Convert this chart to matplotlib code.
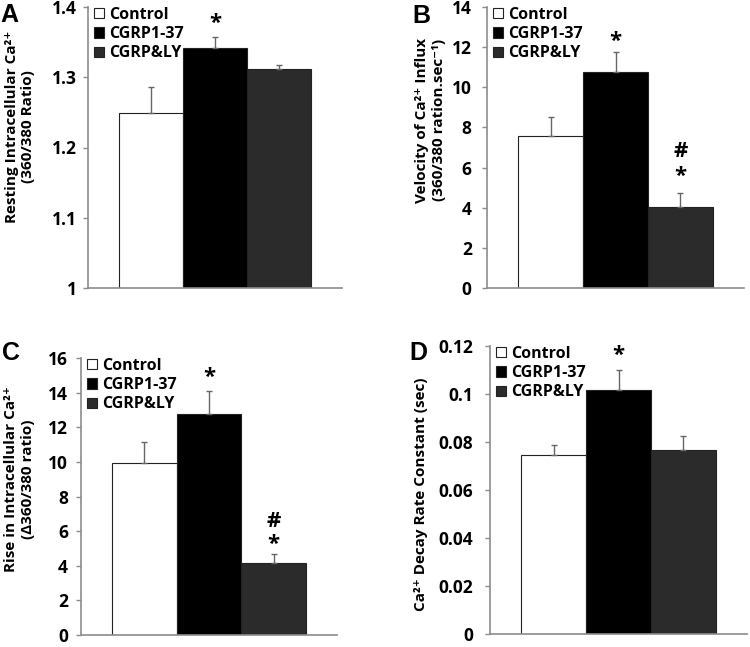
#!/usr/bin/env python3
"""Four-panel Ca2+ bar chart: Control vs CGRP1-37 vs CGRP&LY."""

import matplotlib
matplotlib.use("Agg")
import matplotlib.pyplot as plt

# ---- data --------------------------------------------------------------
groups = ["Control", "CGRP1-37", "CGRP&LY"]

resting_mean = [1.249, 1.341, 1.312]
resting_err = [0.037, 0.016, 0.006]

velocity_mean = [7.59, 10.76, 4.04]
velocity_err = [0.91, 0.98, 0.68]

rise_mean = [9.93, 12.77, 4.15]
rise_err = [1.24, 1.34, 0.55]

decay_mean = [0.0747, 0.1018, 0.0766]
decay_err = [0.0040, 0.0080, 0.0059]

# significance marks: (bar index, y value, symbol)
resting_marks = [(1, 1.376, "*")]
velocity_marks = [(1, 12.3, "*"), (2, 6.78, "#"), (2, 5.55, "*")]
rise_marks = [(1, 14.85, "*"), (2, 6.55, "#"), (2, 5.25, "*")]
decay_marks = [(1, 0.1162, "*")]

FONT = ["Open Sans", "DejaVu Sans"]
BAR_COLORS = ["white", "black", "#2b2b2b"]
AXIS_GRAY = "#8c8c8c"

plt.rcParams.update({
    "font.family": FONT,
    "font.weight": "bold",
    "figure.dpi": 100,
})


def draw_panel(ax, means, errs, marks, ylim, yticks, ticklabels, ylabel,
               label_xy, tick_pad):
    x = range(len(groups))
    bars = ax.bar(x, means, width=1.0, color=BAR_COLORS, edgecolor="#222222",
                  linewidth=0.8, label=groups, zorder=2)
    ax.errorbar(x, means, yerr=[[0] * len(errs), errs], fmt="none",
                ecolor="#666666", elinewidth=1.0, capsize=2.5, capthick=1.0,
                zorder=3)
    for i, y, sym in marks:
        ax.text(i, y, sym, ha="center", va="center", fontsize=16,
                fontweight="bold", color="black")

    ax.set_xlim(-0.98, 2.98)
    ax.set_ylim(*ylim)
    ax.set_yticks(yticks)
    ax.set_yticklabels(ticklabels)
    ax.set_xticks([])
    for side in ("top", "right"):
        ax.spines[side].set_visible(False)
    for side in ("left", "bottom"):
        ax.spines[side].set_color(AXIS_GRAY)
        ax.spines[side].set_linewidth(1.2)
    ax.tick_params(axis="y", direction="out", length=3.5, width=1.0,
                   color=AXIS_GRAY, pad=tick_pad, labelsize=12.5)
    for t in ax.get_yticklabels():
        t.set_fontweight("bold")

    ax.set_ylabel(ylabel, fontsize=11, fontweight="bold", ha="center",
                  va="center", linespacing=1.25)
    ax.yaxis.set_label_coords(*label_xy)

    ax.legend(handles=bars.patches, labels=groups, loc="upper left",
              bbox_to_anchor=(0.025, 1.0), frameon=False, borderpad=0,
              borderaxespad=0, handlelength=0.6, handleheight=0.6,
              handletextpad=0.3, labelspacing=0.2,
              prop={"weight": "bold", "size": 11.5, "family": FONT})


fig = plt.figure(figsize=(7.5, 6.47))
W, H = 750.0, 647.0


def add_axes(left, right, top, bottom):
    return fig.add_axes([left / W, 1 - bottom / H, (right - left) / W,
                         (bottom - top) / H])


axA = add_axes(88, 342, 7, 288)
axB = add_axes(487, 744, 7, 288)
axC = add_axes(81, 337, 358, 635)
axD = add_axes(490, 747, 346, 634)

draw_panel(axA, resting_mean, resting_err, resting_marks, (1.0, 1.4),
           [1.0, 1.1, 1.2, 1.3, 1.4], ["1", "1.1", "1.2", "1.3", "1.4"],
           "Resting Intracellular Ca²⁺\n(360/380 Ratio)",
           (-0.268, 0.573), 4.5)

draw_panel(axB, velocity_mean, velocity_err, velocity_marks, (0, 14),
           range(0, 15, 2), [str(v) for v in range(0, 15, 2)],
           "Velocity of Ca²⁺ Influx\n(360/380 ration.sec⁻¹)",
           (-0.22, 0.598), 7.5)

draw_panel(axC, rise_mean, rise_err, rise_marks, (0, 16),
           range(0, 17, 2), [str(v) for v in range(0, 17, 2)],
           "Rise in Intracellular Ca²⁺\n(Δ360/380 ratio)",
           (-0.24, 0.562), 6.0)

draw_panel(axD, decay_mean, decay_err, decay_marks, (0, 0.12),
           [0, 0.02, 0.04, 0.06, 0.08, 0.1, 0.12],
           ["0", "0.02", "0.04", "0.06", "0.08", "0.1", "0.12"],
           "Ca²⁺ Decay Rate Constant (sec)",
           (-0.27, 0.485), 8.8)

# panel letters
for letter, px, py in [("A", 0, 3), ("B", 412, 4), ("C", 2, 341), ("D", 409, 341)]:
    fig.text(px / W, 1 - py / H, letter, ha="left", va="top", fontsize=18,
             fontweight="bold", family=["Liberation Sans", "DejaVu Sans"])

fig.savefig("out.png", dpi=100, facecolor="white")
print("Saved out.png")
